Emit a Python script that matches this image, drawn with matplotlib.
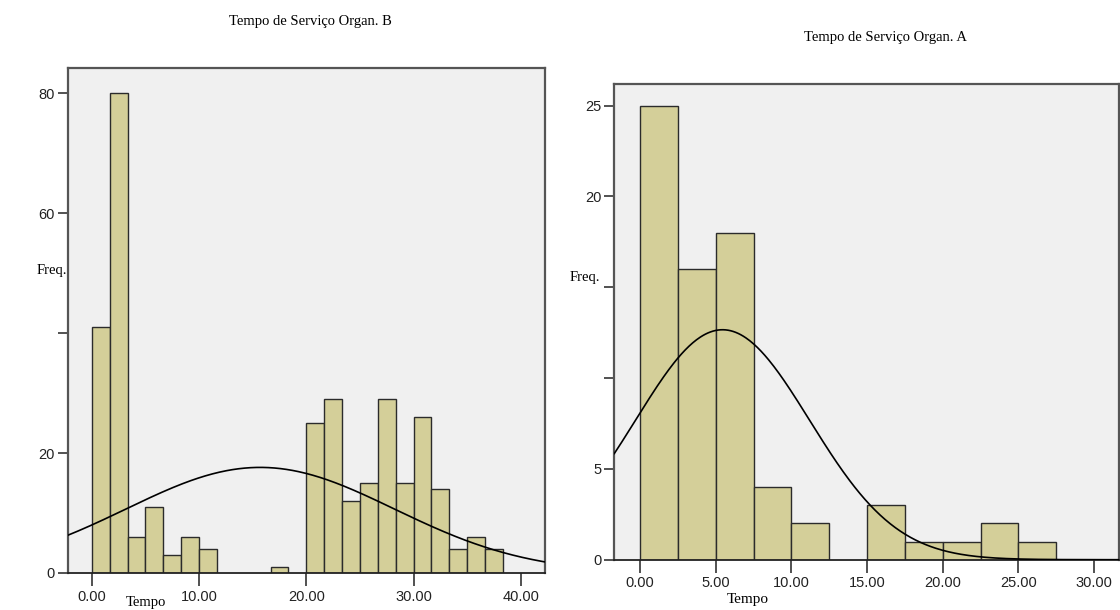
import numpy as np
import matplotlib
matplotlib.use("Agg")
import matplotlib.pyplot as plt

# Organ. B : bins of width 5/3 starting at 0
b_bin_width = 5.0 / 3.0
b_counts = [41, 80, 6, 11, 3, 6, 4, 0, 0, 0, 1, 0,
            25, 29, 12, 15, 29, 15, 26, 14, 4, 6, 4]
b_mean, b_sd = 15.7, 12.5
b_xticks = [0, 10, 20, 30, 40]
b_yticks = [0, 20, 40, 60, 80]
b_ylabels = ["0", "20", "", "60", "80"]

# Organ. A : bins of width 2.5 starting at 0
a_bin_width = 2.5
a_counts = [25, 16, 18, 4, 2, 0, 3, 1, 1, 2, 1]
a_mean, a_sd = 5.45, 5.75
a_xticks = [0, 5, 10, 15, 20, 25, 30]
a_yticks = [0, 5, 10, 15, 20, 25]
a_ylabels = ["0", "5", "", "", "20", "25"]

BAR = "#d4cf99"
EDGE = "#2b2b2b"
BG = "#f0f0f0"
FRAME = "#555555"
SERIF = ["Liberation Serif", "DejaVu Serif"]
SANS = ["Liberation Sans", "DejaVu Sans"]

W, H = 1120, 610
fig = plt.figure(figsize=(W / 100, H / 100), dpi=100)


def px_axes(x0, y0, x1, y1):
    # pixel box (top-left origin) -> figure fraction
    return fig.add_axes([x0 / W, 1 - y1 / H, (x1 - x0) / W, (y1 - y0) / H])


def draw_panel(ax, counts, width, mean, sd, xlim, ylim, xticks, yticks, ylabels):
    counts = np.array(counts, dtype=float)
    lefts = np.arange(len(counts)) * width
    keep = counts > 0
    ax.bar(lefts[keep], counts[keep], width=width, align="edge",
           color=BAR, edgecolor=EDGE, linewidth=1.0, zorder=2)
    xs = np.linspace(xlim[0], xlim[1], 400)
    n = counts.sum()
    ys = n * width / (sd * np.sqrt(2 * np.pi)) * np.exp(-0.5 * ((xs - mean) / sd) ** 2)
    ax.plot(xs, ys, color="black", linewidth=1.2, zorder=3)
    ax.set_xlim(*xlim)
    ax.set_ylim(*ylim)
    ax.set_facecolor(BG)
    for s in ax.spines.values():
        s.set_color(FRAME)
        s.set_linewidth(1.6)
    ax.spines["bottom"].set_color("#222222")
    ax.spines["bottom"].set_linewidth(1.3)
    ax.set_xticks(xticks)
    ax.set_xticklabels([f"{t:.2f}" for t in xticks], fontfamily=SANS, fontsize=10.5,
                       color="#222222")
    ax.set_yticks(yticks)
    ax.set_yticklabels(ylabels, fontfamily=SANS, fontsize=10.5, color="#222222")
    ax.tick_params(axis="x", direction="out", length=9, width=1.2, color="#333333", pad=3)
    ax.tick_params(axis="y", direction="out", length=7, width=1.2, color="#333333", pad=2)


ax_b = px_axes(67.5, 68, 545, 573)
draw_panel(ax_b, b_counts, b_bin_width, b_mean, b_sd, (-2.26, 42.25), (0, 84.2),
           b_xticks, b_yticks, b_ylabels)

ax_a = px_axes(614.3, 83.7, 1119.3, 559.7)
draw_panel(ax_a, a_counts, a_bin_width, a_mean, a_sd, (-1.70, 31.66), (0, 26.21),
           a_xticks, a_yticks, a_ylabels)

# titles and axis labels
fig.text(310 / W, 1 - 21 / H, "Tempo de Serviço Organ. B", ha="center", va="center",
         fontfamily=SERIF, fontsize=10.5)
fig.text(885 / W, 1 - 38 / H, "Tempo de Serviço Organ. A", ha="center", va="center",
         fontfamily=SERIF, fontsize=10.5)
fig.text(37 / W, 1 - 270 / H, "Freq.", ha="left", va="center", fontfamily=SERIF, fontsize=10.5)
fig.text(570 / W, 1 - 278 / H, "Freq.", ha="left", va="center", fontfamily=SERIF, fontsize=10.5)
fig.text(748 / W, 1 - 600 / H, "Tempo", ha="center", va="center", fontfamily=SERIF, fontsize=11)
fig.text(146 / W, 1 - 609 / H, "Tempo", ha="center", va="bottom", fontfamily=SERIF, fontsize=10.5)

fig.savefig("out.png", dpi=100)
